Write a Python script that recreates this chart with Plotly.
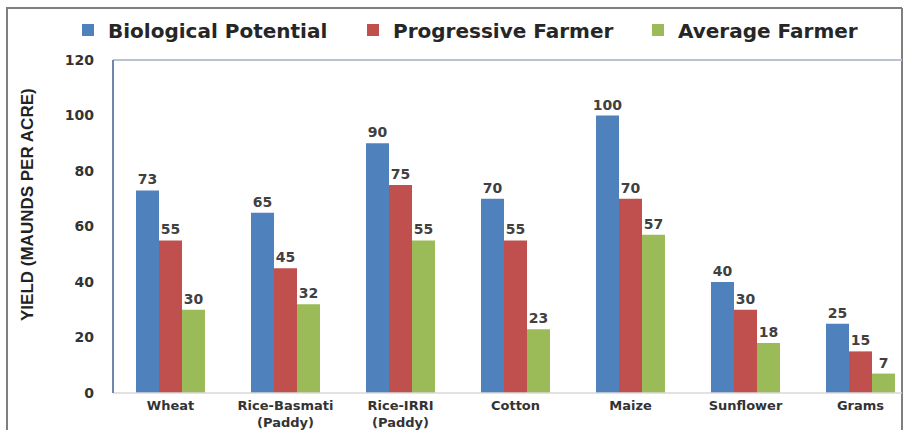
import plotly.graph_objects as go

categories = ["Wheat", "Rice-Basmati<br>(Paddy)", "Rice-IRRI<br>(Paddy)", "Cotton", "Maize", "Sunflower", "Grams"]
biological = [73, 65, 90, 70, 100, 40, 25]
progressive = [55, 45, 75, 55, 70, 30, 15]
average = [30, 32, 55, 23, 57, 18, 7]
series_names = ["Biological Potential", "Progressive Farmer", "Average Farmer"]
colors = ["#4F81BD", "#C0504D", "#9BBB59"]
y_ticks = [0, 20, 40, 60, 80, 100, 120]

W, H = 904, 430
ML, MR, MT, MB = 113, 1, 60, 37
PW, PH = W - ML - MR, H - MT - MB

def px_x(x):
    return (x - ML) / PW

def px_y(y):
    return (H - MB - y) / PH

fig = go.Figure()
for name, vals, col in zip(series_names, [biological, progressive, average], colors):
    fig.add_trace(go.Bar(
        x=categories, y=vals, name=name, marker=dict(color=col, line=dict(width=0)),
        text=[str(v) for v in vals], textposition="outside", cliponaxis=False,
        constraintext="none",
        textfont=dict(family="DejaVu Sans", size=14, color="#404040", weight="bold"),
    ))

fig.update_layout(
    width=W, height=H,
    margin=dict(l=ML, r=MR, t=MT, b=MB, autoexpand=False),
    paper_bgcolor="white", plot_bgcolor="white",
    barmode="group", bargap=0.4, bargroupgap=0,
    font=dict(family="DejaVu Sans", color="#333333"),
    showlegend=True,
    legend=dict(orientation="h", x=px_x(68), xanchor="left", y=px_y(30), yanchor="middle",
                font=dict(family="DejaVu Sans", size=20, color="#262626", weight="bold"),
                entrywidth=240, entrywidthmode="pixels", traceorder="normal",
                bgcolor="rgba(0,0,0,0)"),
    xaxis=dict(range=[-0.5, -0.5 + PW / 115.0], showline=False, showgrid=False, zeroline=False,
               ticks="", ticklabelstandoff=3,
               tickfont=dict(family="DejaVu Sans", size=13, color="#333333", weight="bold"),
               fixedrange=True),
    yaxis=dict(range=[0, 120], tickvals=y_ticks, showgrid=False, zeroline=False, showline=False,
               ticks="", ticklabelstandoff=18,
               tickfont=dict(family="DejaVu Sans", size=14, color="#333333", weight="bold")),
)

# y axis title
fig.add_annotation(text="YIELD (MAUNDS PER ACRE)", textangle=-90, xref="paper", yref="paper",
                   x=px_x(28), y=px_y(205), showarrow=False, xanchor="center", yanchor="middle",
                   font=dict(family="Liberation Sans Narrow, Liberation Sans", size=17, color="#222222", weight="bold"))

# outer frame
fig.add_shape(type="line", xref="paper", yref="paper", x0=px_x(7), x1=px_x(7), y0=px_y(8), y1=px_y(432),
              line=dict(color="#7F7F7F", width=2))
fig.add_shape(type="line", xref="paper", yref="paper", x0=px_x(6), x1=px_x(902), y0=px_y(8), y1=px_y(8),
              line=dict(color="#7F7F7F", width=2))
fig.add_shape(type="line", xref="paper", yref="paper", x0=px_x(902), x1=px_x(902), y0=px_y(8), y1=px_y(432),
              line=dict(color="#7F7F7F", width=2))
# plot area frame
fig.add_shape(type="line", xref="paper", yref="paper", x0=0, x1=px_x(902), y0=1, y1=1,
              line=dict(color="#B8C3D2", width=2))
fig.add_shape(type="line", xref="paper", yref="paper", x0=0, x1=px_x(902), y0=0, y1=0,
              line=dict(color="#D9D9D9", width=1.5))
fig.add_shape(type="line", xref="paper", yref="paper", x0=0, x1=0, y0=0, y1=1,
              line=dict(color="#6F86AE", width=2))

fig.write_html("out.html")
